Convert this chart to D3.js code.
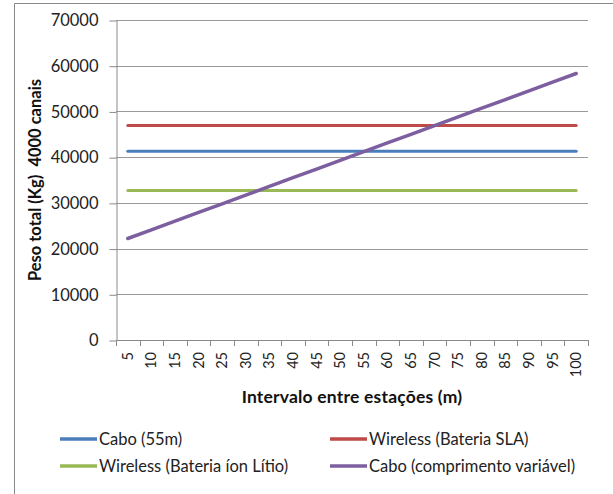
<!DOCTYPE html>
<html>
<head>
<meta charset="utf-8">
<script src="https://cdn.jsdelivr.net/npm/d3@7"></script>
<style>
  html, body { margin: 0; padding: 0; background: #fff; }
  svg { display: block; font-family: Lato, "Open Sans", sans-serif; }
</style>
</head>
<body>
<svg id="chart" width="613" height="494"></svg>
<script>
// Intervalo entre estações (m)
const categories = [5, 10, 15, 20, 25, 30, 35, 40, 45, 50, 55, 60, 65, 70, 75, 80, 85, 90, 95, 100];

// Peso total (Kg) por série
const caboFixo = [41300, 41300, 41300, 41300, 41300, 41300, 41300, 41300, 41300, 41300,
                  41300, 41300, 41300, 41300, 41300, 41300, 41300, 41300, 41300, 41300];
const wirelessSLA = [46900, 46900, 46900, 46900, 46900, 46900, 46900, 46900, 46900, 46900,
                     46900, 46900, 46900, 46900, 46900, 46900, 46900, 46900, 46900, 46900];
const wirelessLitio = [32700, 32700, 32700, 32700, 32700, 32700, 32700, 32700, 32700, 32700,
                       32700, 32700, 32700, 32700, 32700, 32700, 32700, 32700, 32700, 32700];
const caboVariavel = [22200, 24100, 26000, 27900, 29800, 31700, 33600, 35500, 37400, 39300,
                      41200, 43100, 45000, 46900, 48800, 50700, 52600, 54500, 56400, 58300];

const yTicks = [0, 10000, 20000, 30000, 40000, 50000, 60000, 70000];

const seriesNames = ["Cabo (55m)", "Wireless (Bateria SLA)", "Wireless (Bateria íon Lítio)", "Cabo (comprimento variável)"];
const seriesColors = ["#4a7ebb", "#be4b48", "#98b954", "#7d5fa0"];
const seriesValues = [caboFixo, wirelessSLA, wirelessLitio, caboVariavel];

const svg = d3.select("#chart");
const plotLeft = 116, plotRight = 588, plotTop = 20, plotBottom = 340;

// Frame of the chart area
svg.append("path")
  .attr("d", "M14.5,494 V3.5 H613")
  .attr("fill", "none")
  .attr("stroke", "#8a8a8a")
  .attr("stroke-width", 1);

const x = d3.scaleBand().domain(categories).range([plotLeft, plotRight]).padding(0);
const y = d3.scaleLinear().domain([0, 70000]).range([plotBottom, plotTop]);
const cx = d => x(d) + x.bandwidth() / 2;

// Horizontal gridlines
svg.append("g")
  .selectAll("line")
  .data(yTicks.filter(t => t > 0))
  .join("line")
  .attr("x1", plotLeft).attr("x2", plotRight)
  .attr("y1", d => Math.round(y(d)) + 0.5).attr("y2", d => Math.round(y(d)) + 0.5)
  .attr("stroke", "#999999")
  .attr("stroke-width", 1);

// Y axis
const yAxis = svg.append("g")
  .attr("transform", `translate(${plotLeft + 0.5},0.5)`)
  .call(d3.axisLeft(y).tickValues(yTicks).tickFormat(d3.format("d")).tickSize(7).tickSizeOuter(0).tickPadding(11));
yAxis.select(".domain").attr("stroke", "#8a8a8a");
yAxis.selectAll(".tick line").attr("stroke", "#8a8a8a");
yAxis.selectAll(".tick text")
  .attr("font-family", "Lato, sans-serif")
  .attr("font-size", 16.5)
  .attr("fill", "#222");

// X axis line with boundary ticks
const xAxis = svg.append("g");
xAxis.append("line")
  .attr("x1", plotLeft).attr("x2", plotRight)
  .attr("y1", plotBottom + 0.5).attr("y2", plotBottom + 0.5)
  .attr("stroke", "#8a8a8a");
xAxis.selectAll("line.tk")
  .data(categories.map(c => x(c)).concat([plotRight]))
  .join("line")
  .attr("class", "tk")
  .attr("x1", d => Math.round(d) + 0.5).attr("x2", d => Math.round(d) + 0.5)
  .attr("y1", plotBottom).attr("y2", plotBottom + 6)
  .attr("stroke", "#8a8a8a");
xAxis.selectAll("text")
  .data(categories)
  .join("text")
  .attr("transform", d => `translate(${cx(d)},${plotBottom + 12}) rotate(-90)`)
  .attr("text-anchor", "end")
  .attr("dy", "0.35em")
  .attr("font-size", 14.5)
  .attr("fill", "#222")
  .text(d => d);

// Series lines
const line = d3.line()
  .x((d, i) => cx(categories[i]))
  .y(d => y(d));

svg.append("g")
  .selectAll("path")
  .data(seriesValues)
  .join("path")
  .attr("d", d => line(d))
  .attr("fill", "none")
  .attr("stroke", (d, i) => seriesColors[i])
  .attr("stroke-width", (d, i) => i === 3 ? 3.5 : 3)
  .attr("stroke-linecap", "round")
  .attr("stroke-linejoin", "round");

// Axis titles
svg.append("text")
  .attr("transform", `translate(${(plotLeft + plotRight) / 2},403)`)
  .attr("text-anchor", "middle")
  .attr("font-weight", "bold")
  .attr("font-size", 17.5)
  .attr("letter-spacing", 0.2)
  .attr("fill", "#111")
  .text("Intervalo entre estações (m)");

svg.append("text")
  .attr("transform", "translate(41,180) rotate(-90)")
  .attr("text-anchor", "middle")
  .attr("font-weight", "bold")
  .attr("font-size", 16.5)
  .attr("fill", "#111")
  .attr("xml:space", "preserve")
  .text("Peso total (Kg)  4000 canais");

// Legend
const legendPos = [[60, 439], [330, 439], [60, 466], [330, 466]];
const legend = svg.append("g")
  .selectAll("g")
  .data(seriesNames)
  .join("g")
  .attr("transform", (d, i) => `translate(${legendPos[i][0]},${legendPos[i][1]})`);
legend.append("line")
  .attr("x1", 0).attr("x2", 37)
  .attr("stroke", (d, i) => seriesColors[i])
  .attr("stroke-width", 3.5);
legend.append("text")
  .attr("x", 39)
  .attr("dy", "0.35em")
  .attr("font-size", 16.5)
  .attr("fill", "#222")
  .text(d => d);
</script>
</body>
</html>
